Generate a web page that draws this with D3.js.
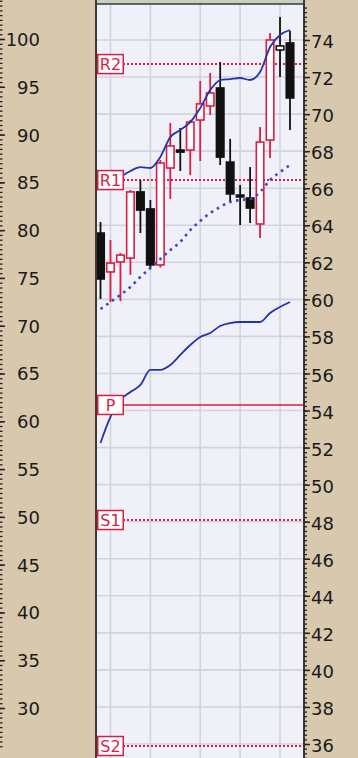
<!DOCTYPE html>
<html>
<head>
<meta charset="utf-8">
<script src="https://cdn.jsdelivr.net/npm/d3@7/dist/d3.min.js"></script>
<style>
  html, body { margin: 0; padding: 0; background: #d8c8ad; }
  svg { display: block; }
</style>
</head>
<body>
<svg id="chart" width="358" height="758"></svg>
<script>
// Daily sessions shown on the chart
const sessions = d3.range(1, 21);

// OHLC prices (right-hand scale)
const open  = [63.58, 61.48, 62.02, 62.23, 65.80, 64.88, 61.86, 67.09, 68.06, 68.06,
               69.68, 70.44, 71.41, 67.41, 65.63, 65.47, 64.07, 68.60, 73.46, 73.84];
const high  = [64.18, 63.20, 62.50, 65.90, 66.44, 65.36, 67.52, 69.52, 69.25, 69.68,
               71.79, 72.22, 72.81, 68.66, 66.17, 67.14, 69.30, 74.38, 75.24, 74.48];
const low   = [60.02, 59.86, 59.91, 61.32, 63.58, 61.69, 61.72, 65.42, 66.93, 66.71,
               67.47, 69.95, 67.25, 65.26, 64.01, 64.12, 63.31, 67.63, 72.00, 69.14];
const close = [61.10, 61.96, 62.39, 65.80, 64.82, 61.86, 67.36, 68.28, 67.95, 69.57,
               70.55, 71.14, 67.68, 65.69, 65.53, 64.93, 68.49, 74.00, 73.68, 70.87];

// Upper average (starts at session 3), lower dotted average (right scale)
const upperSessions = d3.range(3, 21);
const upperAvg = [66.61, 66.93, 67.14, 67.09, 67.69, 68.76, 69.14, 69.57, 70.33, 71.30,
                  71.84, 71.89, 71.95, 71.84, 72.27, 73.62, 74.27, 74.54];
const lowerAvg = [59.48, 59.86, 60.24, 60.67, 61.21, 61.69, 62.18, 62.66, 63.10, 63.74,
                  64.23, 64.66, 64.99, 65.26, 65.36, 65.42, 65.80, 66.44, 66.87, 67.25];

// Second series on the left-hand scale
const leftSeries = [57.73, 60.45, 62.23, 63.06, 63.80, 65.37, 65.37, 65.89, 66.94, 67.98,
                    68.82, 69.24, 69.97, 70.28, 70.39, 70.39, 70.39, 71.33, 71.96, 72.48];

// Pivot levels
const pivotNames  = ["R2", "R1", "P", "S1", "S2"];
const pivotValues = [72.70, 66.44, 54.30, 48.09, 35.89];

// Axis ticks
const rightTicks = d3.range(36, 76, 2);
const leftTicks  = d3.range(30, 105, 5);
const gridSessions = [2, 6, 11, 15, 19];

const W = 358, H = 758;
const plot = { left: 96, right: 304, top: 4, bottom: 758 };
const RED = "#dc1c44", BLUE = "#2434a8";

const svg = d3.select("#chart");

const x  = d3.scaleLinear().domain([1, 20]).range([100.5, 290]);
const yR = d3.scaleLinear().domain([36, 74]).range([744, 40]);
const yL = d3.scaleLinear().domain([30, 100]).range([708, 39]);

// plot background
svg.append("rect")
  .attr("x", plot.left).attr("y", 0)
  .attr("width", plot.right - plot.left).attr("height", H)
  .attr("fill", "#f0f0f9");
svg.append("rect")
  .attr("x", plot.left).attr("y", 0)
  .attr("width", plot.right - plot.left).attr("height", plot.top)
  .attr("fill", "#c6d0be");

svg.append("defs").append("clipPath").attr("id", "clip")
  .append("rect")
  .attr("x", plot.left).attr("y", plot.top)
  .attr("width", plot.right - plot.left).attr("height", plot.bottom - plot.top);

const body = svg.append("g").attr("clip-path", "url(#clip)");

// grid
body.append("g").selectAll("line").data(rightTicks).join("line")
  .attr("x1", plot.left).attr("x2", plot.right)
  .attr("y1", d => yR(d)).attr("y2", d => yR(d))
  .attr("stroke", "#d3d3dc").attr("stroke-width", 1.6);
body.append("g").selectAll("line").data(gridSessions).join("line")
  .attr("x1", d => x(d)).attr("x2", d => x(d))
  .attr("y1", plot.top).attr("y2", plot.bottom)
  .attr("stroke", "#d3d3dc").attr("stroke-width", 1.6);

// pivot lines
body.append("g").selectAll("line").data(pivotValues).join("line")
  .attr("x1", 123).attr("x2", plot.right)
  .attr("y1", d => yR(d)).attr("y2", d => yR(d))
  .attr("stroke", RED)
  .attr("stroke-width", (d, i) => pivotNames[i] === "P" ? 1.6 : 2)
  .attr("stroke-dasharray", (d, i) => pivotNames[i] === "P" ? null : "2,2");

// candles
const bars = sessions.map((s, i) => ({
  s, o: open[i], h: high[i], l: low[i], c: close[i],
  up: i === 0 ? close[i] >= open[i] : close[i] >= close[i - 1],
  hollow: close[i] > open[i]
}));
const bw = 9;
const cg = body.append("g").selectAll("g").data(bars).join("g");
cg.append("line")
  .attr("x1", d => x(d.s)).attr("x2", d => x(d.s))
  .attr("y1", d => yR(d.h)).attr("y2", d => yR(d.l))
  .attr("stroke", d => d.up ? RED : "#111")
  .attr("stroke-width", 1.8);
cg.append("rect")
  .attr("x", d => x(d.s) - bw / 2 + 0.75)
  .attr("width", bw - 1.5)
  .attr("y", d => yR(Math.max(d.o, d.c)))
  .attr("height", d => Math.max(1.5, yR(Math.min(d.o, d.c)) - yR(Math.max(d.o, d.c))))
  .attr("fill", d => d.hollow ? "#fff" : "#111")
  .attr("stroke", d => d.up ? RED : "#111")
  .attr("stroke-width", 1.6);

// averages
body.append("path")
  .datum(upperAvg.map((v, i) => [upperSessions[i], v]))
  .attr("fill", "none").attr("stroke", BLUE).attr("stroke-width", 1.8)
  .attr("d", d3.line().x(d => x(d[0])).y(d => yR(d[1])).curve(d3.curveMonotoneX));
body.append("path")
  .datum(lowerAvg.map((v, i) => [sessions[i], v]))
  .attr("fill", "none").attr("stroke", "#3a4ac0").attr("stroke-width", 2.6)
  .attr("stroke-dasharray", "2.6,4.4")
  .attr("d", d3.line().x(d => x(d[0])).y(d => yR(d[1])).curve(d3.curveMonotoneX));
body.append("path")
  .datum(leftSeries.map((v, i) => [sessions[i], v]))
  .attr("fill", "none").attr("stroke", BLUE).attr("stroke-width", 1.8)
  .attr("d", d3.line().x(d => x(d[0])).y(d => yL(d[1])).curve(d3.curveMonotoneX));

// pivot labels
const lab = svg.append("g").selectAll("g").data(pivotValues).join("g")
  .attr("transform", d => `translate(97,${yR(d)})`);
lab.append("rect")
  .attr("x", 0.75).attr("y", -9.5).attr("width", 25.5).attr("height", 19)
  .attr("fill", "#fff").attr("stroke", RED).attr("stroke-width", 1.5);
lab.append("text")
  .attr("x", 13.5).attr("y", 0).attr("dy", "0.36em")
  .attr("text-anchor", "middle")
  .attr("font-family", "DejaVu Sans").attr("font-size", 16)
  .attr("fill", RED)
  .text((d, i) => pivotNames[i]);

// frame
svg.append("line").attr("x1", plot.left).attr("x2", plot.left)
  .attr("y1", 0).attr("y2", H).attr("stroke", "#3a3a3a").attr("stroke-width", 2);
svg.append("line").attr("x1", plot.right).attr("x2", plot.right)
  .attr("y1", 0).attr("y2", H).attr("stroke", "#3a3a3a").attr("stroke-width", 2);
svg.append("line").attr("x1", plot.left).attr("x2", plot.right)
  .attr("y1", plot.top).attr("y2", plot.top).attr("stroke", "#3a3a3a").attr("stroke-width", 1.6);

// right axis
const rAxis = svg.append("g").attr("transform", `translate(${plot.right},0)`);
rAxis.append("g")
  .call(d3.axisRight(yR).tickValues(d3.range(35.25, 76, 0.25)).tickSize(3).tickFormat(""))
  .call(g => g.select(".domain").remove())
  .call(g => g.selectAll("line").attr("stroke", "#222").attr("stroke-width", 1.3));
rAxis.append("g")
  .call(d3.axisRight(yR).tickValues(rightTicks).tickSize(6).tickPadding(1).tickFormat(d3.format("d")))
  .call(g => g.select(".domain").remove())
  .call(g => g.selectAll("line").attr("stroke", "#222").attr("stroke-width", 1.5))
  .call(g => g.selectAll("text")
    .attr("font-family", "DejaVu Sans").attr("font-size", 18).attr("fill", "#1a1a1a")
    .attr("dy", "0.42em"));

// left axis
const lAxis = svg.append("g").attr("transform", "translate(0,0)");
lAxis.append("g")
  .call(d3.axisRight(yL).tickValues(d3.range(26, 105, 0.5)).tickSize(2.5).tickFormat(""))
  .call(g => g.select(".domain").remove())
  .call(g => g.selectAll("line").attr("stroke", "#222").attr("stroke-width", 1.3));
lAxis.append("g")
  .call(d3.axisRight(yL).tickValues(leftTicks).tickSize(5).tickFormat(d3.format("d")))
  .call(g => g.select(".domain").remove())
  .call(g => g.selectAll("line").attr("stroke", "#222").attr("stroke-width", 1.5))
  .call(g => g.selectAll("text")
    .attr("x", 40).attr("text-anchor", "end")
    .attr("font-family", "DejaVu Sans").attr("font-size", 18).attr("fill", "#1a1a1a")
    .attr("dy", "0.36em"));
</script>
</body>
</html>
